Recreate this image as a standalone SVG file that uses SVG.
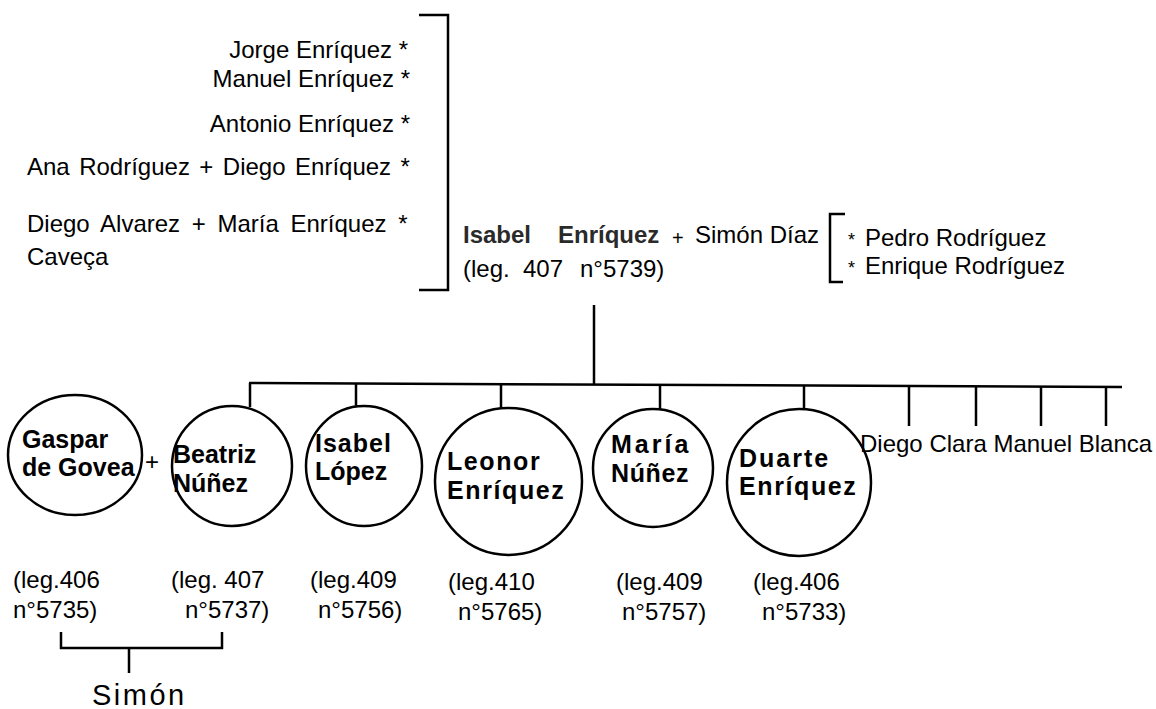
<svg xmlns="http://www.w3.org/2000/svg" width="1156" height="709" viewBox="0 0 1156 709">
<style>
text{font-family:"Liberation Sans",Arial,sans-serif;font-size:24px;fill:#000}
.b{font-weight:bold;font-size:25px}
.hd{font-weight:bold;fill:#2a2a2a}
.ast{font-size:18px}
.pl{font-size:20px}
.sm{font-size:29px;letter-spacing:2.5px}
.ln{fill:none;stroke:#000;stroke-width:2.5}
.cl{fill:#fff;stroke:#000;stroke-width:2.5}
</style>
<rect width="1156" height="709" fill="#fff"/>
<g id="connectors">
<path class="ln" d="M419,15 H448 V290 H419"/>
<path class="ln" d="M845,214 H830 V282 H843"/>
<path class="ln" d="M594,305 V384"/>
<path class="ln" d="M249,383 L1122,387"/>
<path class="ln" d="M250,383 V407 M356,384 V407 M501,385 V408 M660,385 V409 M804,386 V409 M909,386 V426 M976,386 V426 M1041,387 V426 M1106,387 V426"/>
<path class="ln" d="M61,632 V648 H222 V632 M129,648 V673"/>
</g>
<g id="siblings">
<text x="408" y="58" text-anchor="end">Jorge Enríquez *</text>
<text x="410" y="87" text-anchor="end">Manuel Enríquez *</text>
<text x="410" y="132" text-anchor="end">Antonio Enríquez *</text>
<text x="27" y="175" word-spacing="2.8">Ana Rodríguez + Diego Enríquez *</text>
<text x="27" y="232" word-spacing="5">Diego Alvarez + María Enríquez *</text>
<text x="27" y="265">Caveça</text>
</g>
<g id="isabel-enriquez">
<text class="hd" x="463" y="243">Isabel</text>
<text class="hd" x="558" y="243">Enríquez</text>
<text class="pl" x="672" y="245">+</text>
<text x="695" y="243">Simón Díaz</text>
<text y="277"><tspan x="463">(leg.</tspan><tspan x="523">407</tspan><tspan x="580">n°5739)</tspan></text>
</g>
<g id="simon-diaz-siblings">
<text class="ast" x="848" y="246">*</text>
<text x="865" y="246">Pedro Rodríguez</text>
<text class="ast" x="848" y="274">*</text>
<text x="865" y="274">Enrique Rodríguez</text>
</g>
<g id="gaspar">
<ellipse class="cl" cx="75" cy="455" rx="67" ry="60"/>
<text class="b" x="22" y="448">Gaspar</text>
<text class="b" x="22" y="476">de Govea</text>
<text x="152" y="470" text-anchor="middle">+</text>
<text x="13" y="588">(leg.406</text>
<text x="13" y="618">n°5735)</text>
</g>
<g id="beatriz">
<ellipse class="cl" cx="232" cy="466" rx="60" ry="60"/>
<text class="b" x="173" y="463">Beatriz</text>
<text class="b" x="173" y="492">Núñez</text>
<text x="171" y="588">(leg. 407</text>
<text x="185" y="618">n°5737)</text>
</g>
<g id="isabel-lopez">
<ellipse class="cl" cx="364" cy="466" rx="58" ry="60"/>
<text class="b" x="315" y="452" letter-spacing="1">Isabel</text>
<text class="b" x="315" y="480">López</text>
<text x="310" y="588">(leg.409</text>
<text x="318" y="618">n°5756)</text>
</g>
<g id="leonor">
<ellipse class="cl" cx="508.5" cy="481.5" rx="73.5" ry="73.5"/>
<text class="b" x="447" y="470" letter-spacing="1.6">Leonor</text>
<text class="b" x="447" y="499" letter-spacing="1.6">Enríquez</text>
<text x="448" y="590">(leg.410</text>
<text x="458" y="620">n°5765)</text>
</g>
<g id="maria">
<ellipse class="cl" cx="653" cy="468" rx="60" ry="59"/>
<text class="b" x="611" y="453" letter-spacing="3">María</text>
<text class="b" x="611" y="482" letter-spacing="0.6">Núñez</text>
<text x="616" y="590">(leg.409</text>
<text x="622" y="620">n°5757)</text>
</g>
<g id="duarte">
<ellipse class="cl" cx="799" cy="482.5" rx="72" ry="73.5"/>
<text class="b" x="739" y="467" letter-spacing="2">Duarte</text>
<text class="b" x="739" y="495" letter-spacing="1.6">Enríquez</text>
<text x="753" y="590">(leg.406</text>
<text x="762" y="620">n°5733)</text>
</g>
<g id="others">
<text x="860" y="452">Diego Clara Manuel Blanca</text>
</g>
<g id="simon">
<text class="sm" x="92" y="705">Simón</text>
</g>
</svg>
